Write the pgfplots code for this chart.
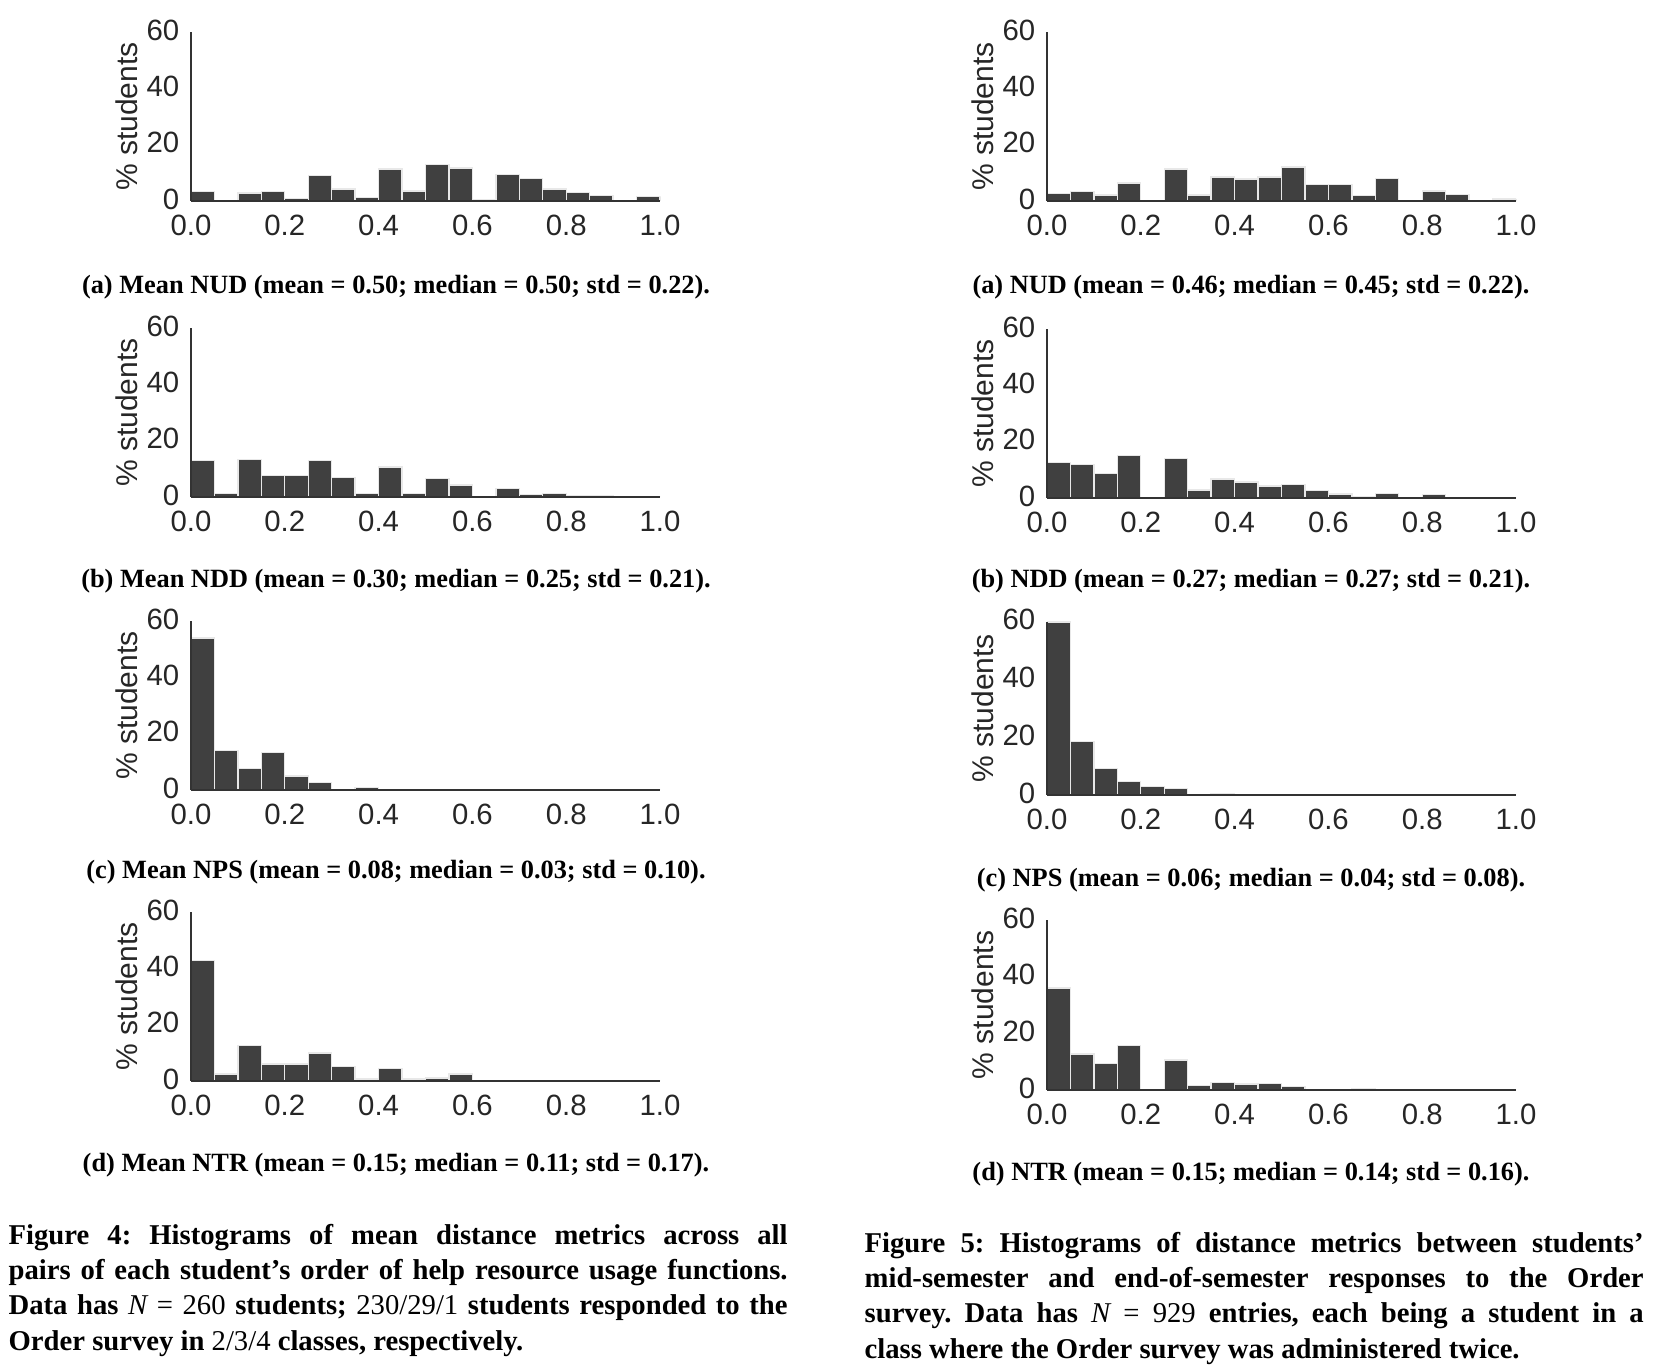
\documentclass[border=0pt]{standalone}
\usepackage{fontspec}
\setmainfont{Liberation Serif}
\newfontfamily\arialf{Liberation Sans}
\usepackage{pgfplots}
\pgfplotsset{compat=1.18}
\definecolor{barc}{HTML}{404040}
\definecolor{edgec}{HTML}{E8E8E8}
\definecolor{tickc}{HTML}{262626}
\definecolor{axc}{HTML}{333333}
\pgfplotsset{hist/.style={
  scale only axis, width=140.7pt, height=50.7pt,
  anchor=south west,
  xmin=0, xmax=1, ymin=0, ymax=60,
  xtick={0,0.2,0.4,0.6,0.8,1}, ytick={0,20,40,60},
  axis lines=left, axis line style={-, draw=axc, line width=0.5pt},
  major tick length=0pt,
  axis on top,
  /pgf/number format/assume math mode=true,
  ticklabel style={font=\arialf\fontsize{8.8}{10}\selectfont, text=tickc},
  x tick label style={yshift=-0.8pt, /pgf/number format/fixed, /pgf/number format/fixed zerofill, /pgf/number format/precision=1},
  y tick label style={yshift=0.6pt, /pgf/number format/fixed, /pgf/number format/precision=0},
  ylabel={\% students},
  ylabel style={font=\arialf\fontsize{9}{10}\selectfont, text=tickc, at={(axis description cs:-0.1365,0.5)}, anchor=center},
}}
\tikzset{histbar/.style={ybar interval, fill=barc, draw=edgec, line width=0.4pt},
  subcap/.style={anchor=base, inner sep=0pt, font=\bfseries\fontsize{7.9}{9.5}\selectfont},
  figcap/.style={anchor=base west, inner sep=0pt, font=\frenchspacing\bfseries\fontsize{8.6}{10.6}\selectfont}}
\newcommand{\capline}[1]{\makebox[233.7pt][s]{#1}}
\frenchspacing
\begin{document}
\begin{tikzpicture}
\useasboundingbox (0,0) rectangle (498.6pt,410.4pt);
% ---------- Left column (Figure 4) ----------
\begin{axis}[hist, at={(57.3pt,350.1pt)}]
\addplot[histbar] coordinates {(0,3.3) (0.05,0) (0.1,2.8) (0.15,3.3) (0.2,0.8) (0.25,9.1) (0.3,4.3) (0.35,1.2) (0.4,11.4) (0.45,3.6) (0.5,13.0) (0.55,11.7) (0.6,0.4) (0.65,9.4) (0.7,7.9) (0.75,4.3) (0.8,2.9) (0.85,2.0) (0.9,0) (0.95,1.6) (1,0)};
\end{axis}
\begin{axis}[hist, at={(57.3pt,261.3pt)}]
\addplot[histbar] coordinates {(0,13.0) (0.05,1.2) (0.1,13.4) (0.15,7.6) (0.2,7.6) (0.25,12.9) (0.3,7.0) (0.35,1.2) (0.4,10.7) (0.45,1.2) (0.5,6.6) (0.55,4.3) (0.6,0) (0.65,3.0) (0.7,0.8) (0.75,1.3) (0.8,0.4) (0.85,0.4) (0.9,0) (0.95,0) (1,0)};
\end{axis}
\begin{axis}[hist, at={(57.3pt,173.4pt)}]
\addplot[histbar] coordinates {(0,54.0) (0.05,14.0) (0.1,7.7) (0.15,13.2) (0.2,5.0) (0.25,2.6) (0.3,0) (0.35,1.0) (0.4,0) (0.45,0) (0.5,0) (0.55,0) (0.6,0) (0.65,0) (0.7,0) (0.75,0) (0.8,0) (0.85,0) (0.9,0) (0.95,0) (1,0)};
\end{axis}
\begin{axis}[hist, at={(57.3pt,86.1pt)}]
\addplot[histbar] coordinates {(0,42.8) (0.05,2.5) (0.1,12.7) (0.15,6.0) (0.2,6.0) (0.25,9.9) (0.3,5.2) (0.35,0.7) (0.4,4.4) (0.45,0.7) (0.5,1.1) (0.55,2.5) (0.6,0) (0.65,0) (0.7,0) (0.75,0) (0.8,0) (0.85,0) (0.9,0) (0.95,0) (1,0)};
\end{axis}
% ---------- Right column (Figure 5) ----------
\begin{axis}[hist, at={(314.1pt,350.1pt)}]
\addplot[histbar] coordinates {(0,2.6) (0.05,3.3) (0.1,2.1) (0.15,6.4) (0.2,0) (0.25,11.4) (0.3,2.1) (0.35,8.5) (0.4,7.8) (0.45,8.5) (0.5,12.1) (0.55,5.9) (0.6,5.8) (0.65,1.9) (0.7,8.1) (0.75,0) (0.8,3.5) (0.85,2.3) (0.9,0) (0.95,0.7) (1,0)};
\end{axis}
\begin{axis}[hist, at={(314.1pt,261.0pt)}]
\addplot[histbar] coordinates {(0,12.7) (0.05,11.8) (0.1,8.6) (0.15,15.2) (0.2,0) (0.25,14.1) (0.3,2.8) (0.35,6.8) (0.4,5.7) (0.45,4.3) (0.5,4.9) (0.55,2.6) (0.6,1.4) (0.65,0.6) (0.7,1.5) (0.75,0) (0.8,1.2) (0.85,0) (0.9,0) (0.95,0) (1,0)};
\end{axis}
\begin{axis}[hist, at={(314.1pt,171.9pt)}, height=52pt]
\addplot[histbar] coordinates {(0,59.9) (0.05,18.5) (0.1,9.2) (0.15,4.7) (0.2,3.0) (0.25,2.3) (0.3,0) (0.35,0.5) (0.4,0) (0.45,0) (0.5,0) (0.55,0) (0.6,0) (0.65,0) (0.7,0) (0.75,0) (0.8,0) (0.85,0) (0.9,0) (0.95,0) (1,0)};
\end{axis}
\begin{axis}[hist, at={(314.1pt,83.4pt)}, height=51pt]
\addplot[histbar] coordinates {(0,36.0) (0.05,12.7) (0.1,9.4) (0.15,15.8) (0.2,0) (0.25,10.6) (0.3,1.5) (0.35,2.7) (0.4,2.1) (0.45,2.4) (0.5,1.2) (0.55,0) (0.6,0) (0.65,0.5) (0.7,0) (0.75,0) (0.8,0) (0.85,0) (0.9,0) (0.95,0) (1,0)};
\end{axis}
% ---------- Sub-captions ----------
\node[subcap] at (118.8pt,322.2pt) {(a) Mean NUD (mean = 0.50; median = 0.50; std = 0.22).};
\node[subcap] at (118.8pt,234.0pt) {(b) Mean NDD (mean = 0.30; median = 0.25; std = 0.21).};
\node[subcap] at (118.8pt,146.7pt) {(c) Mean NPS (mean = 0.08; median = 0.03; std = 0.10).};
\node[subcap] at (118.8pt,59.1pt) {(d) Mean NTR (mean = 0.15; median = 0.11; std = 0.17).};
\node[subcap] at (375.3pt,322.2pt) {(a) NUD (mean = 0.46; median = 0.45; std = 0.22).};
\node[subcap] at (375.3pt,234.0pt) {(b) NDD (mean = 0.27; median = 0.27; std = 0.21).};
\node[subcap] at (375.3pt,144.3pt) {(c) NPS (mean = 0.06; median = 0.04; std = 0.08).};
\node[subcap] at (375.3pt,56.4pt) {(d) NTR (mean = 0.15; median = 0.14; std = 0.16).};
% ---------- Figure captions ----------
\node[figcap] at (2.4pt,37.2pt) {\capline{Figure 4: Histograms of mean distance metrics across all}};
\node[figcap] at (2.4pt,26.6pt) {\capline{pairs of each student’s order of help resource usage functions.}};
\node[figcap] at (2.4pt,16.0pt) {\capline{Data has {\mdseries\itshape N} {\mdseries = 260} students; {\mdseries 230/29/1} students responded to the}};
\node[figcap] at (2.4pt,5.4pt) {Order survey in {\mdseries 2/3/4} classes, respectively.};
\node[figcap] at (259.2pt,34.8pt) {\capline{Figure 5: Histograms of distance metrics between students’}};
\node[figcap] at (259.2pt,24.2pt) {\capline{mid-semester and end-of-semester responses to the Order}};
\node[figcap] at (259.2pt,13.6pt) {\capline{survey. Data has {\mdseries\itshape N} {\mdseries = 929} entries, each being a student in a}};
\node[figcap] at (259.2pt,3.0pt) {class where the Order survey was administered twice.};
\end{tikzpicture}
\end{document}
